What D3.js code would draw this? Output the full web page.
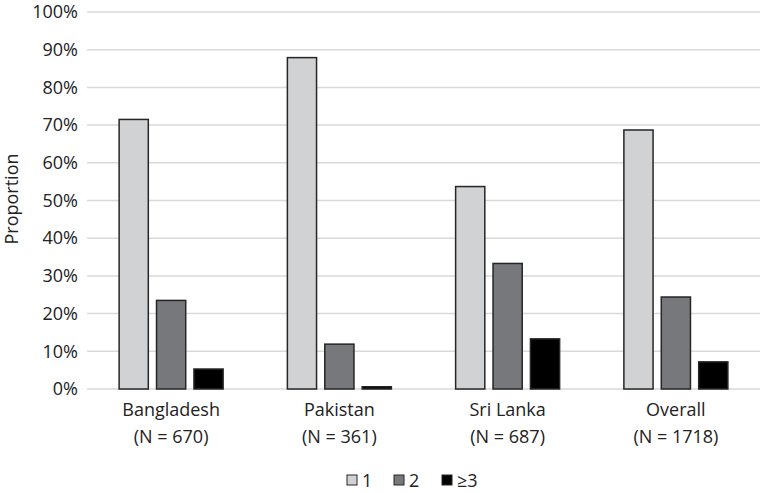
<!DOCTYPE html>
<html><head><meta charset="utf-8">
<script src="https://cdn.jsdelivr.net/npm/d3@7"></script>
<style>body{margin:0;background:#fff}svg{display:block}text{font-family:"Open Sans",sans-serif;fill:#222}</style>
</head><body><svg id="c" width="762" height="493"></svg>
<script>
const categories = ["Bangladesh", "Pakistan", "Sri Lanka", "Overall"];
const sampleSizes = ["(N = 670)", "(N = 361)", "(N = 687)", "(N = 1718)"];
const seriesNames = ["1", "2", "\u22653"];
const series1 = [0.715, 0.879, 0.537, 0.687];
const series2 = [0.235, 0.119, 0.333, 0.244];
const series3 = [0.053, 0.006, 0.133, 0.072];
const seriesColors = ["#d1d2d4", "#77787b", "#000000"];
const yTicks = [0,0.1,0.2,0.3,0.4,0.5,0.6,0.7,0.8,0.9,1.0];

(function(){
const FS = 18;
const svg = d3.select("#c");
const pLeft = 87, pRight = 760, pTop = 12, pBottom = 389;
const x = d3.scaleBand().domain(categories).range([pLeft, pRight]);
const y = d3.scaleLinear().domain([0,1]).range([pBottom, pTop]);
const xs = d3.scaleBand().domain(seriesNames).range([-52, 52]).paddingInner(0.22).paddingOuter(0);

svg.append("g").selectAll("line").data(yTicks).join("line")
  .attr("x1", pLeft).attr("x2", pRight)
  .attr("y1", d => y(d)).attr("y2", d => y(d))
  .attr("stroke", "#d9d9d9").attr("stroke-width", 1.5);

const yAxis = d3.axisLeft(y).tickValues(yTicks).tickFormat(d3.format(".0%")).tickSize(0).tickPadding(9);
const ya = svg.append("g").attr("transform", `translate(${pLeft},0)`).call(yAxis);
ya.select(".domain").remove();
ya.selectAll("text").attr("font-size", FS).style("font-family", "'Open Sans', sans-serif").attr("fill", "#222");

svg.append("text").attr("transform", `translate(18,199) rotate(-90)`)
  .attr("text-anchor", "middle").attr("font-size", FS).text("Proportion");

const allSeries = [series1, series2, series3];
allSeries.forEach((vals, si) => {
  svg.append("g").selectAll("rect").data(vals).join("rect")
    .attr("x", (d,i) => x(categories[i]) + x.bandwidth()/2 + xs(seriesNames[si]))
    .attr("width", xs.bandwidth())
    .attr("y", d => y(d))
    .attr("height", d => y(0) - y(d))
    .attr("fill", seriesColors[si])
    .attr("stroke", "#262626").attr("stroke-width", 1.5);
});

const xl = svg.append("g");
categories.forEach((c, i) => {
  const cx = x(c) + x.bandwidth()/2;
  xl.append("text").attr("x", cx).attr("y", 416).attr("text-anchor","middle").attr("font-size",FS).text(c);
  xl.append("text").attr("x", cx).attr("y", 443).attr("text-anchor","middle").attr("font-size",FS).text(sampleSizes[i]);
});

const legX = [347, 394, 442];
const lg = svg.append("g");
seriesNames.forEach((n, i) => {
  lg.append("rect").attr("x", legX[i]).attr("y", 475).attr("width", 10).attr("height", 10)
    .attr("fill", seriesColors[i]).attr("stroke", "#262626").attr("stroke-width", 1);
  lg.append("text").attr("x", legX[i] + 15).attr("y", 487).attr("font-size", FS).text(n);
});
})();
</script></body></html>
